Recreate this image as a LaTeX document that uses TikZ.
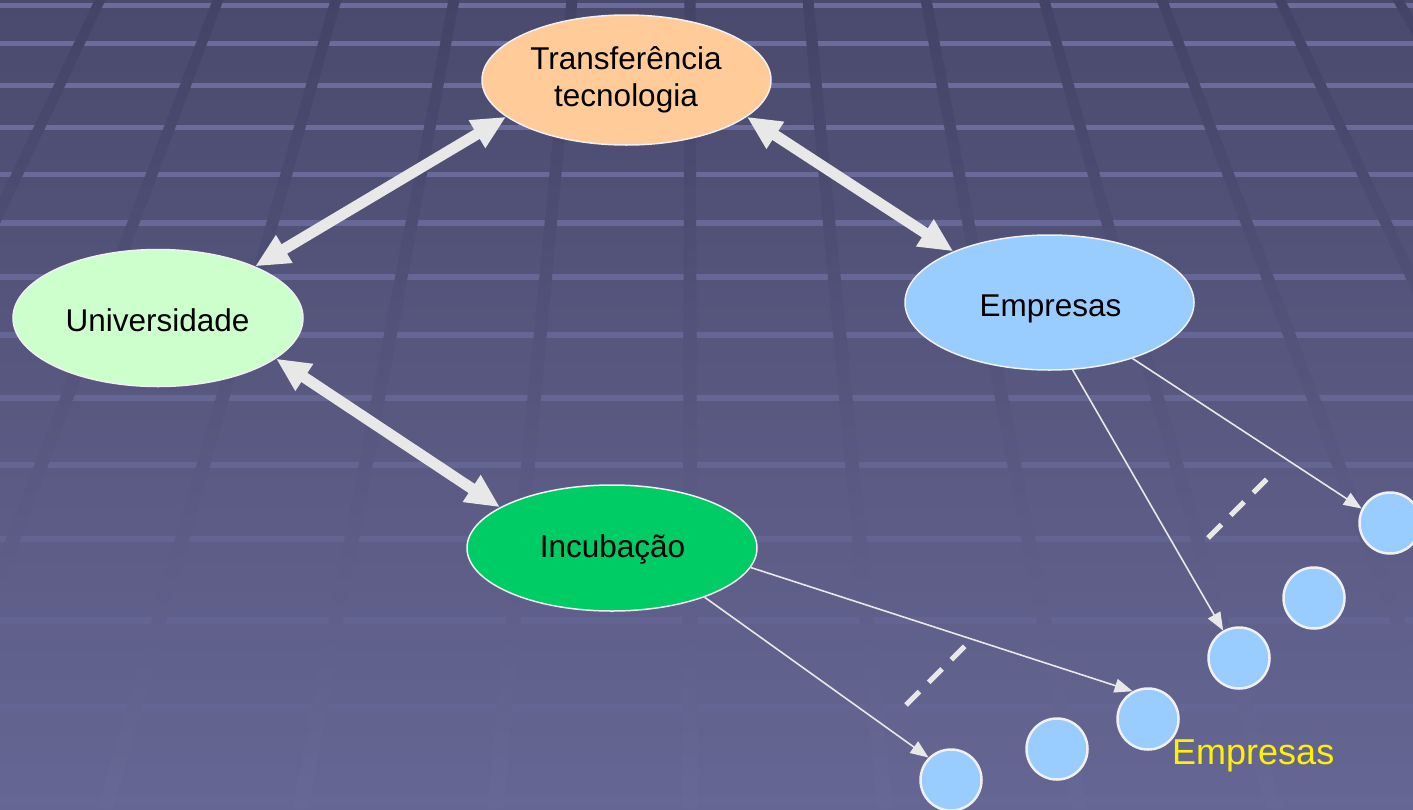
\documentclass[tikz,border=0pt]{standalone}
\usepackage{fontspec}
\setmainfont{Liberation Sans}
\usetikzlibrary{arrows.meta,shapes.geometric}
\definecolor{bgtop}{HTML}{4A4A6E}
\definecolor{bgbot}{HTML}{666694}
\definecolor{hline}{HTML}{6B6B9C}
\definecolor{vtop}{HTML}{434367}
\definecolor{vmid}{HTML}{53537C}
\definecolor{vbot}{HTML}{686896}
\definecolor{arrowgray}{HTML}{E8E8E8}
\definecolor{rimwhite}{HTML}{F0F0F0}
\definecolor{peach}{HTML}{FFCC99}
\definecolor{mint}{HTML}{CCFFCC}
\definecolor{skyb}{HTML}{99CCFF}
\definecolor{greenb}{HTML}{00CC66}
\begin{document}
\begin{tikzpicture}[x=1pt,y=-1pt,
  ell/.style={ellipse, draw=rimwhite, line width=1.5pt, inner sep=0pt},
  bub/.style={circle, draw=rimwhite, line width=2.5pt, fill=skyb, minimum size=61pt, inner sep=0pt},
  lbl/.style={font=\fontsize{31.5}{37}\selectfont, text=black, anchor=base, inner sep=0pt},
  ylbl/.style={font=\fontsize{36}{40}\selectfont, text=yellow, anchor=base west, inner sep=0pt},
  bigarrow/.style={draw=arrowgray, line width=11pt, {Triangle[length=34pt,width=30pt]}-{Triangle[length=34pt,width=30pt]}},
  thinarrow/.style={draw=arrowgray, line width=1.6pt, -{Triangle[length=18pt,width=14pt]}},
  dsh/.style={draw=arrowgray, line width=5pt, dash pattern=on 19pt off 13pt},
]
\useasboundingbox (0,0) rectangle (1413,809);
\clip (0,0) rectangle (1413,809);
% background
\shade[top color=bgtop, bottom color=bgbot] (0,0) rectangle (1413,809);
\foreach \yy/\ww/\oo in {5/5/1,43/5/1,85/5/1,127/5/1,174/5/0.95,223/5.5/0.9,277/5.5/0.85,335/6/0.8,398/6/0.75,465/6.5/0.65,539/6.5/0.55,620/7/0.45,707/7/0.35,800/7/0.3}{
  \draw[hline, line width=\ww pt, opacity=\oo] (0,\yy) -- (1413,\yy);
}
\foreach \i in {-6,...,6}{
  \pgfmathsetmacro\xt{690+\i*118}
  \pgfmathsetmacro\xb{690+\i*(118+0.095*809)}
  \shade[top color=vtop, middle color=vmid, bottom color=vbot]
    (\xt-5.5,0) -- (\xt+5.5,0) -- (\xb+8,809) -- (\xb-8,809) -- cycle;
}
% main nodes
\node[ell, fill=peach, minimum width=289pt, minimum height=130pt] (transf) at (626.5,80) {};
\node[ell, fill=mint, minimum width=290pt, minimum height=137pt] (univ) at (158,318) {};
\node[ell, fill=skyb, minimum width=289pt, minimum height=135pt] (emp) at (1049.5,302.5) {};
\node[ell, fill=greenb, minimum width=290pt, minimum height=126pt] (incub) at (612,548) {};
\node[lbl] (tTransfA) at (626,69) {Transferência};
\node[lbl] (tTransfB) at (626,106) {tecnologia};
\node[lbl] (tUniv) at (157.5,331) {Universidade};
\node[lbl] (tEmp) at (1050.5,316) {Empresas};
\node[lbl] (tIncub) at (612.5,557) {Incubação};
% small companies
\node[bub] (c1) at (1390,523) {};
\node[bub] (c2) at (1314,598) {};
\node[bub] (c3) at (1239,658) {};
\node[bub] (c4) at (1148,719) {};
\node[bub] (c5) at (1057,749) {};
\node[bub] (c6) at (951,780) {};
\node[ylbl] (tEmp2) at (1172,764) {Empresas};
% thick double arrows
\draw[bigarrow] (univ.28) -- (transf.197);
\draw[bigarrow] (transf.343) -- (emp.152);
\draw[bigarrow] (univ.341) -- (incub.160);
% thin arrows
\draw[thinarrow] (emp.-71.4) -- (c3.120);
\draw[thinarrow] (emp.-34.5) -- (c1.153);
\draw[thinarrow] (incub.-8.7) -- (c4.119);
\draw[thinarrow] (incub.-28.4) -- (c6.135);
% dashed marks
\coordinate (dA1) at (906,705);
\coordinate (dA2) at (966,645);
\coordinate (dB1) at (1208,538);
\coordinate (dB2) at (1268,478);
\draw[dsh] (dA1) -- (dA2);
\draw[dsh] (dB1) -- (dB2);
\end{tikzpicture}
\end{document}
